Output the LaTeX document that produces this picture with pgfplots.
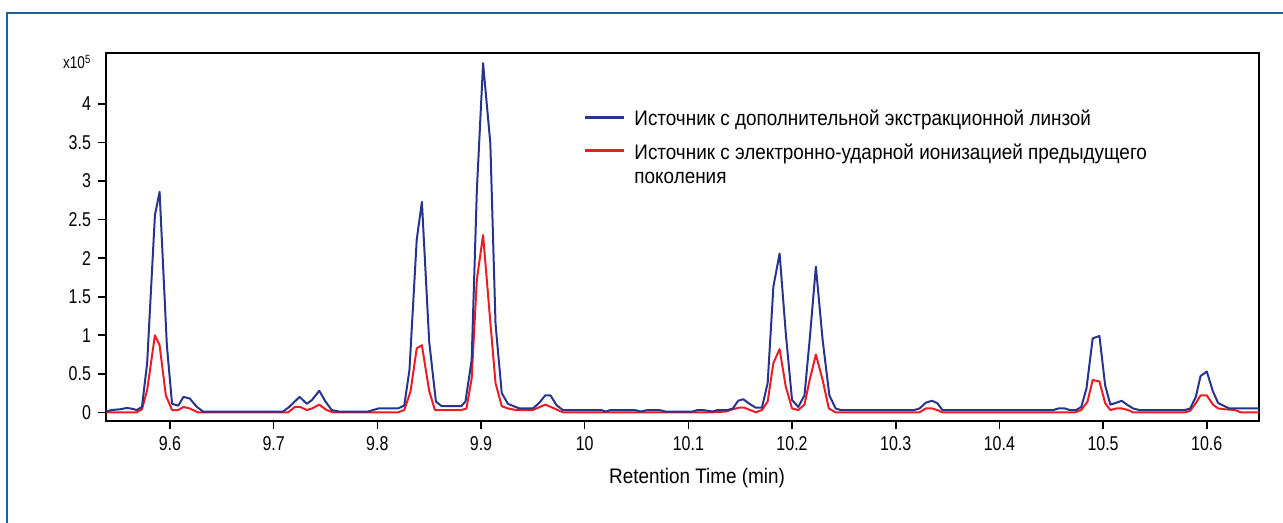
\documentclass[border=0pt]{standalone}
\usepackage{fontspec}
\setmainfont{Liberation Sans}[FakeStretch=0.8]
\newfontfamily\legendfont{Liberation Sans}[FakeStretch=0.9]
\usepackage{pgfplots}
\pgfplotsset{compat=1.18}
\definecolor{srcblue}{RGB}{40,52,140}
\definecolor{srcred}{RGB}{237,28,36}
\definecolor{frameblue}{RGB}{28,94,158}

\begin{document}
\begin{tikzpicture}[x=0.5pt,y=0.5pt]
\useasboundingbox (0,0) rectangle (1283,523);
\draw[frameblue,line width=1.4pt] (7,-10) -- (7,510) -- (1295,510);

\begin{axis}[
  at={(53pt,50.75pt)}, anchor=south west,
  scale only axis, width=576.65pt, height=184.4pt,
  xmin=9.5383, xmax=10.6507, ymin=-0.119, ymax=4.666,
  axis line style={line width=1pt},
  xtick={9.6,9.7,9.8,9.9,10,10.1,10.2,10.3,10.4,10.5,10.6},
  ytick={0,0.5,1,1.5,2,2.5,3,3.5,4},
  xtick pos=bottom, ytick pos=left,
  tick align=outside, major tick length=4pt,
  tick style={black, line width=0.8pt},
  tick label style={font=\fontsize{10}{12}\selectfont},
  /pgf/number format/assume math mode=true,
  clip=true,
]
% older EI source (red)
\addplot[srcred, line width=1pt, line join=round, mark=none] coordinates {
(9.538,0) (9.568,0) (9.573,0.04) (9.578,0.29) (9.5855,1.00) (9.590,0.87)
(9.596,0.22) (9.602,0.03) (9.608,0.03) (9.613,0.07) (9.619,0.05) (9.627,0)
(9.714,0) (9.7205,0.07) (9.7255,0.07) (9.732,0.03) (9.737,0.05) (9.744,0.10)
(9.751,0.03) (9.757,0) (9.820,0) (9.826,0.03) (9.832,0.27) (9.838,0.83)
(9.843,0.87) (9.850,0.28) (9.8555,0.03) (9.881,0.03) (9.886,0.05) (9.891,0.44)
(9.896,1.72) (9.902,2.30) (9.908,1.33) (9.914,0.38) (9.920,0.08) (9.926,0.05)
(9.934,0.03) (9.950,0.03) (9.962,0.10) (9.969,0.06) (9.979,0) (10.114,0)
(10.1235,0) (10.136,0.01) (10.143,0.04) (10.149,0.06) (10.154,0.06) (10.165,0)
(10.171,0.03) (10.1765,0.14) (10.182,0.64) (10.188,0.82) (10.194,0.33) (10.200,0.05)
(10.206,0.03) (10.212,0.10) (10.217,0.42) (10.223,0.75) (10.2295,0.42) (10.2355,0.05)
(10.242,0) (10.323,0) (10.329,0.05) (10.335,0.05) (10.340,0.03) (10.345,0)
(10.473,0) (10.479,0.03) (10.485,0.14) (10.490,0.42) (10.4965,0.40) (10.502,0.12)
(10.507,0.03) (10.513,0.05) (10.518,0.05) (10.524,0.03) (10.529,0) (10.579,0)
(10.584,0.02) (10.5895,0.12) (10.594,0.22) (10.600,0.22) (10.606,0.10) (10.611,0.05)
(10.617,0.04) (10.627,0.03) (10.633,0) (10.6507,0)
};
% source with extra extraction lens (blue)
\addplot[srcblue, line width=1pt, line join=round, mark=none] coordinates {
(9.538,0.01) (9.544,0.03) (9.552,0.04) (9.558,0.056) (9.562,0.05) (9.568,0.03)
(9.573,0.07) (9.578,0.64) (9.5855,2.56) (9.590,2.86) (9.597,0.87) (9.602,0.11)
(9.608,0.086) (9.613,0.20) (9.619,0.18) (9.626,0.07) (9.632,0.01) (9.709,0.01)
(9.715,0.07) (9.725,0.20) (9.732,0.11) (9.737,0.16) (9.744,0.28) (9.750,0.14)
(9.756,0.03) (9.763,0.01) (9.791,0.01) (9.801,0.05) (9.820,0.05) (9.826,0.09)
(9.831,0.55) (9.838,2.24) (9.843,2.73) (9.850,0.92) (9.8565,0.14) (9.862,0.08)
(9.881,0.08) (9.885,0.14) (9.891,0.68) (9.896,2.88) (9.902,4.53) (9.909,3.49)
(9.914,1.15) (9.920,0.25) (9.926,0.11) (9.937,0.05) (9.950,0.05) (9.956,0.12)
(9.962,0.22) (9.967,0.22) (9.973,0.09) (9.979,0.03) (10.016,0.03) (10.020,0.01)
(10.025,0.03) (10.048,0.03) (10.054,0.01) (10.061,0.03) (10.072,0.03) (10.078,0.01)
(10.104,0.01) (10.109,0.03) (10.114,0.03) (10.1235,0.01) (10.128,0.03) (10.138,0.03)
(10.143,0.05) (10.148,0.15) (10.153,0.17) (10.159,0.11) (10.165,0.06) (10.171,0.06)
(10.1765,0.38) (10.182,1.63) (10.188,2.06) (10.194,1.02) (10.200,0.16) (10.206,0.07)
(10.212,0.22) (10.217,0.94) (10.223,1.89) (10.2295,0.94) (10.236,0.22) (10.242,0.05)
(10.247,0.03) (10.318,0.03) (10.323,0.05) (10.329,0.125) (10.335,0.15) (10.340,0.12)
(10.345,0.03) (10.452,0.03) (10.457,0.05) (10.463,0.05) (10.468,0.03) (10.474,0.03)
(10.479,0.07) (10.484,0.31) (10.490,0.96) (10.4965,0.99) (10.502,0.35) (10.507,0.10)
(10.513,0.125) (10.518,0.15) (10.523,0.10) (10.529,0.05) (10.535,0.03) (10.579,0.03)
(10.584,0.05) (10.5895,0.20) (10.594,0.47) (10.600,0.53) (10.606,0.27) (10.611,0.12)
(10.617,0.08) (10.622,0.05) (10.6507,0.05)
};
\end{axis}

% exponent, axis title and legend
\node[anchor=base west, inner sep=0pt, font=\fontsize{8.5}{10}\selectfont] at (62.7,454) {x10\textsuperscript{5}};
\node[anchor=base, inner sep=0pt, font=\legendfont\fontsize{10.5}{12}\selectfont] at (697,39) {Retention Time (min)};

\draw[srcblue, line width=1.5pt] (585,405.7) -- (624,405.7);
\node[anchor=base west, inner sep=0pt, font=\legendfont\fontsize{10.5}{12}\selectfont] at (634,397) {Источник с дополнительной экстракционной линзой};
\draw[srcred, line width=1.5pt] (585,372.3) -- (624,372.3);
\node[anchor=base west, inner sep=0pt, font=\legendfont\fontsize{10.5}{12}\selectfont] at (634,363.7) {Источник с электронно-ударной ионизацией предыдущего};
\node[anchor=base west, inner sep=0pt, font=\legendfont\fontsize{10.5}{12}\selectfont] at (634,339.7) {поколения};
\end{tikzpicture}
\end{document}
